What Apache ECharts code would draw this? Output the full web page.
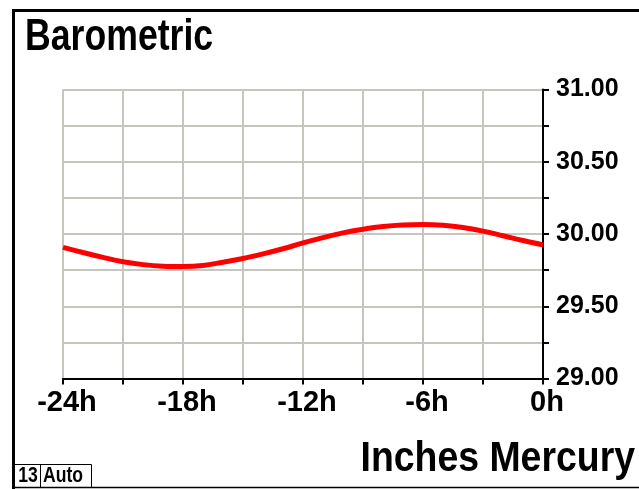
<!DOCTYPE html>
<html>
<head>
<meta charset="utf-8">
<script src="https://cdn.jsdelivr.net/npm/echarts@6/dist/echarts.min.js"></script>
<style>
  html, body { margin: 0; padding: 0; background: #ffffff; }
  #chart { width: 639px; height: 489px; }
</style>
</head>
<body>
<div id="chart"></div>
<script>
// Hours before now, one reading per hour
const hours = [-24, -23, -22, -21, -20, -19, -18, -17, -16, -15, -14, -13, -12,
               -11, -10, -9, -8, -7, -6, -5, -4, -3, -2, -1, 0];
// Barometric pressure, inches of mercury
const pressure = [29.908, 29.872, 29.838, 29.808, 29.788, 29.777, 29.775, 29.782, 29.805,
                  29.830, 29.862, 29.898, 29.938, 29.975, 30.008, 30.033, 30.052, 30.062,
                  30.065, 30.060, 30.045, 30.020, 29.988, 29.955, 29.925];
// Labelled hour ticks and their text
const xLabelHours = [-24, -18, -12, -6, 0];
const xLabelText = ['-24h', '-18h', '-12h', '-6h', '0h'];
// Labelled pressure ticks
const yLabelValues = [29, 29.5, 30, 30.5, 31];

const FONT = "'Liberation Sans', Arial, sans-serif";
const GRID_COLOR = '#c6c6be';

const chart = echarts.init(document.getElementById('chart'), null, { renderer: 'canvas' });

chart.setOption({
  animation: false,
  backgroundColor: '#ffffff',
  grid: {
    left: 63, top: 89.5, width: 480, height: 289,
    outerBoundsMode: 'none'
  },
  xAxis: {
    type: 'value',
    min: -24, max: 0, interval: 3,
    axisLine: { show: true, onZero: false, lineStyle: { color: '#000', width: 2 } },
    axisTick: { show: true, inside: false, length: 6, lineStyle: { color: '#000', width: 2 } },
    splitLine: { show: true, lineStyle: { color: GRID_COLOR, width: 2 } },
    axisLabel: {
      margin: 10,
      padding: [0, 0, 0, 8],
      fontFamily: FONT, fontWeight: 'bold', fontSize: 29, color: '#000',
      formatter: function (v) {
        const i = xLabelHours.indexOf(v);
        return i >= 0 ? xLabelText[i] : '';
      }
    }
  },
  yAxis: {
    type: 'value',
    position: 'right',
    min: 29, max: 31, interval: 0.25,
    axisLine: { show: true, onZero: false, lineStyle: { color: '#000', width: 2 } },
    axisTick: { show: true, inside: false, length: 6, lineStyle: { color: '#000', width: 2 } },
    splitLine: { show: true, lineStyle: { color: GRID_COLOR, width: 2 } },
    axisLabel: {
      margin: 13,
      fontFamily: FONT, fontWeight: 'bold', fontSize: 25, color: '#000',
      formatter: function (v) {
        return yLabelValues.some(function (t) { return Math.abs(t - v) < 1e-6; }) ? v.toFixed(2) : '';
      }
    }
  },
  series: [{
    type: 'line',
    data: hours.map(function (h, i) { return [h, pressure[i]]; }),
    smooth: 0.4,
    showSymbol: false,
    lineStyle: { color: '#ff0000', width: 5 },
    z: 5
  }],
  graphic: [
    // frame: thick left and top edges, thin bottom edge
    { type: 'line', shape: { x1: 13.5, y1: 10.5, x2: 639, y2: 10.5 }, style: { stroke: '#000', lineWidth: 3 } },
    { type: 'line', shape: { x1: 13.5, y1: 9, x2: 13.5, y2: 489 }, style: { stroke: '#000', lineWidth: 3 } },
    { type: 'line', shape: { x1: 13, y1: 487.5, x2: 639, y2: 487.5 }, style: { stroke: '#000', lineWidth: 1.5 } },
    // title, horizontally condensed
    { type: 'text', x: 25, y: 38, scaleX: 0.81,
      style: { text: 'Barometric', fontFamily: FONT, fontWeight: 'bold', fontSize: 44, fill: '#000',
               align: 'left', verticalAlign: 'middle' } },
    // unit caption, horizontally condensed
    { type: 'text', x: 635, y: 459, scaleX: 0.87,
      style: { text: 'Inches Mercury', fontFamily: FONT, fontWeight: 'bold', fontSize: 43, fill: '#000',
               align: 'right', verticalAlign: 'middle' } },
    // status box
    { type: 'rect', shape: { x: 14.5, y: 464.5, width: 77, height: 23 }, style: { fill: 'none', stroke: '#000', lineWidth: 1 } },
    { type: 'line', shape: { x1: 40.5, y1: 464.5, x2: 40.5, y2: 487 }, style: { stroke: '#000', lineWidth: 1 } },
    { type: 'text', x: 28, y: 476, scaleX: 0.8,
      style: { text: '13', fontFamily: FONT, fontWeight: 'bold', fontSize: 22, fill: '#000',
               align: 'center', verticalAlign: 'middle' } },
    { type: 'text', x: 63, y: 476, scaleX: 0.8,
      style: { text: 'Auto', fontFamily: FONT, fontWeight: 'bold', fontSize: 22, fill: '#000',
               align: 'center', verticalAlign: 'middle' } }
  ]
});
</script>
</body>
</html>
